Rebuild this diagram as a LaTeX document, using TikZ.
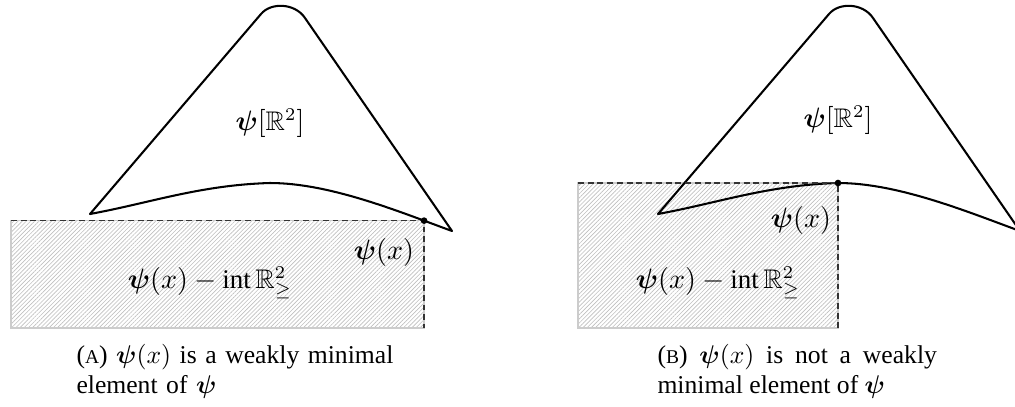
\documentclass[tikz,border=0pt]{standalone}
\usepackage{amsmath,amssymb}
\usepackage{fontspec}
\setmainfont{Liberation Serif}
\usetikzlibrary{patterns.meta,backgrounds}
\newcommand{\smA}[1]{{\fontsize{7.6}{9}\selectfont #1}}
\tikzset{
  region/.style={line width=0.8pt, line join=round},
  hatchbox/.style={draw=gray!40, line width=0.5pt,
    pattern={Lines[angle=45,distance=1.15pt,line width=0.25pt]}, pattern color=gray!50},
  bound/.style={dash pattern=on 2.3pt off 1.5pt, line width=0.5pt, draw=black!80},
  dotmark/.style={circle, fill=black, inner sep=0pt, minimum size=2.6pt},
  lbl/.style={inner sep=0pt, font=\fontsize{10.5}{13}\selectfont},
  capbox/.style={inner sep=0pt, anchor=base west, font=\fontsize{10}{12}\selectfont}
}
\begin{document}
\begin{tikzpicture}[x=0.39pt, y=-0.39pt]
\useasboundingbox (0,0) rectangle (1015,406);
\begin{scope}
\clip (0,0) rectangle (1015,406);
% ---------- (A) ----------
\draw[region] (90,214) coordinate (A1)
  -- (261,14) .. controls (271,2) and (295,3) .. (305,18)
  -- (452,231) coordinate (C1)
  .. controls (400,212) and (330,183) .. (270,183) coordinate[pos=0.17] (D1) coordinate (P1)
  .. controls (200,185) and (150,203) .. (A1) -- cycle;
\begin{scope}[on background layer]
  \draw[hatchbox] (11,328) coordinate (R1) rectangle (D1);
\end{scope}
\draw[bound] (R1 |- D1) -- (D1) -- (D1 |- R1);
\node[dotmark] (dA) at (D1) {};
% ---------- (B) ----------
\begin{scope}[shift={(568,0)}]
\draw[region] (90,214) coordinate (A2)
  -- (261,14) .. controls (271,2) and (295,3) .. (305,18)
  -- (452,231) coordinate (C2)
  .. controls (400,212) and (330,183) .. (270,183) coordinate (P2)
  .. controls (200,185) and (150,203) .. (A2) -- cycle;
\begin{scope}[on background layer]
  \draw[hatchbox] (10,328) coordinate (R2) rectangle (P2);
\end{scope}
\draw[bound] (R2 |- P2) -- (P2) -- (P2 |- R2);
\node[dotmark] (dB) at (P2) {};
\end{scope}
\end{scope}
% ---------- labels ----------
\node[lbl] (imA) at (270,123) {$\boldsymbol{\psi}[\mathbb{R}^2]$};
\node[lbl] (pxA) at (384,252) {$\boldsymbol{\psi}(x)$};
\node[lbl] (coneA) at (210,283) {$\boldsymbol{\psi}(x)-\operatorname{int}\mathbb{R}^2_{\geq}$};
\node[lbl] (imB) at (838,120) {$\boldsymbol{\psi}[\mathbb{R}^2]$};
\node[lbl] (pxB) at (801,220) {$\boldsymbol{\psi}(x)$};
\node[lbl] (coneB) at (718,283) {$\boldsymbol{\psi}(x)-\operatorname{int}\mathbb{R}^2_{\geq}$};
% ---------- captions ----------
\node[capbox, text width=132pt, align=left] (capA) at (76,363)
  {(\smA{A}) $\boldsymbol{\psi}(x)$ is a weakly minimal\\element of $\boldsymbol{\psi}$};
\node[capbox, text width=109pt, align=justify] (capB) at (657,363)
  {(\smA{B}) $\boldsymbol{\psi}(x)$ is not a weakly minimal element of $\boldsymbol{\psi}$};
\end{tikzpicture}
\end{document}
